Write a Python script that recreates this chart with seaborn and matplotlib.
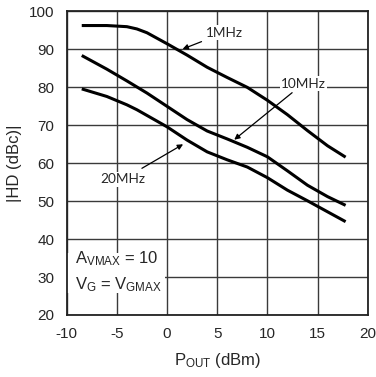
import matplotlib
matplotlib.use("Agg")
import matplotlib.pyplot as plt
from matplotlib.patches import Rectangle
import seaborn as sns
import pandas as pd

# Output power sweep (dBm) and harmonic distortion (dBc) per input frequency
pout = [-8.5, -6, -4, -3, -2, 0, 2, 4, 6, 8, 10, 12, 14, 16, 17.8]
hd_1mhz = [96.3, 96.3, 96.0, 95.4, 94.4, 91.5, 88.5, 85.3, 82.6, 80.0, 76.6, 72.8, 68.6, 64.6, 61.6]
hd_10mhz = [88.4, 84.8, 81.7, 80.1, 78.5, 75.0, 71.5, 68.5, 66.4, 64.2, 61.7, 58.0, 54.2, 51.2, 48.9]
hd_20mhz = [79.6, 77.6, 75.4, 74.1, 72.6, 69.6, 66.1, 63.0, 60.9, 59.0, 56.2, 52.9, 50.1, 47.2, 44.6]
freqs = ["1MHz", "10MHz", "20MHz"]

x_ticks = [-10, -5, 0, 5, 10, 15, 20]
y_ticks = [20, 30, 40, 50, 60, 70, 80, 90, 100]

rows = []
for name, vals in zip(freqs, [hd_1mhz, hd_10mhz, hd_20mhz]):
    for x, y in zip(pout, vals):
        rows.append({"pout": x, "hd": y, "freq": name})
df = pd.DataFrame(rows)

sns.set_style("white")
plt.rcParams["font.family"] = ["Liberation Sans", "DejaVu Sans"]
plt.rcParams["mathtext.fontset"] = "custom"
plt.rcParams["mathtext.rm"] = "Liberation Sans"

fig = plt.figure(figsize=(3.76, 3.77), dpi=100)
ax = fig.add_axes([0.1774, 0.1645, 0.8005, 0.805])

sns.lineplot(data=df, x="pout", y="hd", hue="freq", palette=["black"] * 3,
             linewidth=2.2, legend=False, ax=ax, zorder=3,
             solid_joinstyle="round", solid_capstyle="butt")

ax.set_xlim(-10, 20)
ax.set_ylim(20, 100)
ax.set_xticks(x_ticks)
ax.set_yticks(y_ticks)
ax.set_xticklabels([str(t) for t in x_ticks], fontsize=11)
ax.set_yticklabels([str(t) for t in y_ticks], fontsize=11)
ax.tick_params(axis="x", length=0, pad=9)
ax.tick_params(axis="y", length=0, pad=9)
ax.grid(True, color="#3a3a3a", linewidth=1.0)
for s in ax.spines.values():
    s.set_color("#222222")
    s.set_linewidth(1.3)

ax.set_xlabel(r"P$\mathregular{_{OUT}}$ (dBm)", fontsize=12, labelpad=7)
ax.set_ylabel("|HD (dBc)|", fontsize=12, labelpad=5)

note_font = ["Lato", "DejaVu Sans"]
arrow = dict(arrowstyle="-|>", color="black", lw=0.9, mutation_scale=8,
             shrinkA=0, shrinkB=0)
blank = dict(boxstyle="square,pad=0.1", fc="white", ec="none")
ax.annotate("1MHz", xy=(1.55, 90.1), xytext=(3.85, 94.4), fontsize=9.8,
            family=note_font, va="center", ha="left", bbox=blank,
            arrowprops=dict(arrow, shrinkA=3), zorder=4)
ax.annotate("10MHz", xy=(6.7, 66.2), xytext=(11.35, 81.0), fontsize=9.8,
            family=note_font, va="center", ha="left", bbox=blank,
            arrowprops=dict(arrow, shrinkA=2), zorder=4)
ax.annotate("20MHz", xy=(1.6, 65.0), xytext=(-6.6, 55.8), fontsize=9.8,
            family=note_font, va="center", ha="left", bbox=blank,
            arrowprops=dict(arrow, shrinkA=5), zorder=4)

# White panel behind the operating-condition notes
ax.add_patch(Rectangle((-10, 25.9), 9.8, 10.5, facecolor="white",
                       edgecolor="none", zorder=2.5))
ax.text(-9.2, 34.9, r"A$\mathregular{_{VMAX}}$ = 10", fontsize=12,
        va="center", ha="left", zorder=4)
ax.text(-9.2, 28.0, r"V$\mathregular{_G}$ = V$\mathregular{_{GMAX}}$",
        fontsize=12, va="center", ha="left", zorder=4)

fig.savefig("out.png", dpi=100)
